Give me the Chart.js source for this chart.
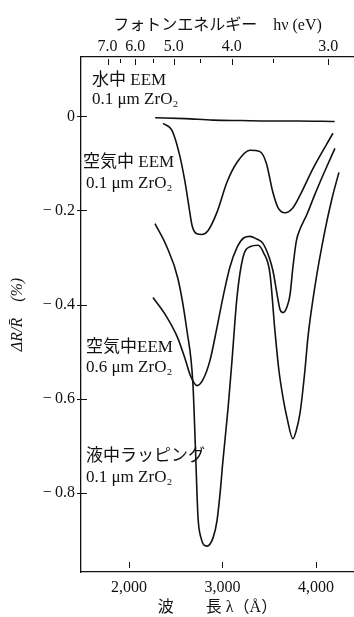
<!DOCTYPE html>
<html>
<head>
<meta charset="utf-8">
<script src="https://cdn.jsdelivr.net/npm/chart.js@4.4.1/dist/chart.umd.min.js"></script>
<style>
  html, body { margin:0; padding:0; background:#fff; }
</style>
</head>
<body>
<canvas id="chart" width="354" height="617"></canvas>
<script>
// 波長 (Å) と ΔR/R̄ (%)
const waveWater = [2280, 2600, 2900, 3200, 3500, 3800, 4200];
const dRWater   = [-0.003, -0.005, -0.008, -0.009, -0.010, -0.010, -0.011];

const waveAir01 = [2364, 2460, 2545, 2600, 2640, 2675, 2720, 2780, 2845, 2941, 3048, 3155, 3294, 3401, 3470, 3540, 3594, 3668, 3754, 3829, 3968, 4182];
const dRAir01   = [-0.015, -0.030, -0.085, -0.140, -0.190, -0.232, -0.249, -0.251, -0.243, -0.204, -0.140, -0.098, -0.072, -0.075, -0.100, -0.162, -0.194, -0.205, -0.194, -0.168, -0.111, -0.036];

const waveAir06 = [2257, 2400, 2520, 2600, 2660, 2727, 2790, 2866, 2940, 3005, 3080, 3155, 3230, 3294, 3360, 3433, 3500, 3540, 3590, 3615, 3647, 3690, 3722, 3754, 3790, 3829, 3904, 3980, 4043, 4120, 4203];
const dRAir06   = [-0.385, -0.425, -0.470, -0.515, -0.552, -0.572, -0.560, -0.519, -0.450, -0.385, -0.320, -0.279, -0.258, -0.255, -0.260, -0.270, -0.300, -0.328, -0.385, -0.410, -0.417, -0.405, -0.380, -0.320, -0.265, -0.240, -0.208, -0.170, -0.140, -0.105, -0.068];

const waveLap = [2278, 2400, 2524, 2620, 2684, 2710, 2738, 2770, 2834, 2900, 2941, 2975, 3005, 3060, 3102, 3155, 3219, 3294, 3380, 3440, 3508, 3561, 3604, 3650, 3690, 3754, 3786, 3830, 3882, 3914, 3990, 4096, 4171, 4246];
const dRLap   = [-0.228, -0.275, -0.345, -0.455, -0.568, -0.700, -0.850, -0.895, -0.913, -0.895, -0.860, -0.800, -0.732, -0.620, -0.519, -0.385, -0.300, -0.277, -0.274, -0.290, -0.334, -0.455, -0.540, -0.600, -0.640, -0.685, -0.670, -0.630, -0.540, -0.470, -0.360, -0.243, -0.175, -0.119];

// 目盛
const xTicks = [2000, 3000, 4000];
const yTicks = [0, -0.2, -0.4, -0.6, -0.8];
const yTickLabels = ['0', '−\u20090.2', '−\u20090.4', '−\u20090.6', '−\u20090.8'];
const eVTicks = [7.0, 6.5, 6.0, 5.5, 5.0, 4.5, 4.0, 3.5, 3.0];
const eVLabeled = [7.0, 6.0, 5.0, 4.0, 3.0];

// 注記
const curveNotes = [
  ['水中 EEM', '0.1 μm ZrO₂'],
  ['空気中 EEM', '0.1 μm ZrO₂'],
  ['空気中EEM', '0.6 μm ZrO₂'],
  ['液中ラッピング', '0.1 μm ZrO₂']
];

const HC = 12398; // eV·Å
const SERIF = '"Liberation Serif", "DejaVu Serif", "Noto Sans CJK JP", serif';

const toXY = (xs, ys) => xs.map((x, i) => ({ x, y: ys[i] }));
const curve = (xs, ys) => ({
  data: toXY(xs, ys), showLine: true, borderColor: '#111', borderWidth: 1.6,
  pointRadius: 0, cubicInterpolationMode: 'monotone', fill: false
});

/* -------------------------------------------
   目盛線と注記
-------------------------------------------- */
const decor = {
  id: 'decor',
  afterDraw(chart) {
    const { ctx, chartArea: a, scales: { x, y } } = chart;
    ctx.save();
    ctx.strokeStyle = '#111';
    ctx.lineWidth = 1;
    const seg = (x1, y1, x2, y2) => { ctx.beginPath(); ctx.moveTo(x1, y1); ctx.lineTo(x2, y2); ctx.stroke(); };

    xTicks.forEach(v => { const p = Math.round(x.getPixelForValue(v)) + 0.5; seg(p, a.bottom - 4, p, a.bottom - 10); });
    eVTicks.forEach(e => { const p = Math.round(x.getPixelForValue(HC / e)) + 0.5; seg(p, a.top + 2, p, a.top + (eVLabeled.includes(e) ? 8 : 6)); });
    yTicks.forEach(v => { const p = Math.round(y.getPixelForValue(v)) + 0.5; seg(a.left - 4, p, a.left + 6, p); });

    // 注記テキスト
    const spots = [[92, 92, 81, 100], [83, 86, 163, 184], [86, 86, 348, 368], [86, 86, 457, 478]];
    ctx.fillStyle = '#111';
    ctx.font = '17px ' + SERIF;
    ctx.textBaseline = 'middle';
    ctx.textAlign = 'left';
    curveNotes.forEach((lines, i) => {
      const [x1, x2, y1, y2] = spots[i];
      ctx.fillText(lines[0], x1, y1);
      ctx.fillText(lines[1], x2, y2);
    });
    ctx.restore();
  }
};

new Chart(document.getElementById('chart'), {
  type: 'scatter',
  data: {
    datasets: [
      curve(waveWater, dRWater),
      curve(waveAir01, dRAir01),
      curve(waveAir06, dRAir06),
      curve(waveLap, dRLap)
    ]
  },
  options: {
    responsive: false,
    animation: false,
    devicePixelRatio: 1,
    layout: { padding: 0 },
    plugins: { legend: { display: false }, tooltip: { enabled: false } },
    scales: {
      x: {
        type: 'linear', position: 'bottom', min: 1487, max: 4407,
        afterFit: s => { s.height = 45; },
        afterBuildTicks: s => { s.ticks = xTicks.map(v => ({ value: v })); },
        grid: { display: true, drawOnChartArea: false, drawTicks: false },
        border: { display: true, color: '#111', width: 1.3 },
        ticks: {
          padding: 6, color: '#111', font: { family: SERIF, size: 16 },
          maxRotation: 0, autoSkip: false,
          callback: v => v.toLocaleString('en-US')
        },
        title: { display: true, text: '波　　長 λ（Å）', color: '#111',
                 font: { family: SERIF, size: 16 }, padding: { top: 0, bottom: 0 } }
      },
      x2: {
        type: 'linear', position: 'top', min: 1487, max: 4407,
        afterFit: s => { s.height = 57; },
        afterBuildTicks: s => { s.ticks = eVLabeled.map(e => ({ value: HC / e })); },
        grid: { display: true, drawOnChartArea: false, drawTicks: false },
        border: { display: true, color: '#111', width: 1.3 },
        ticks: {
          padding: 1, color: '#111', font: { family: SERIF, size: 16 },
          maxRotation: 0, autoSkip: false,
          callback: v => (HC / v).toFixed(1)
        },
        title: { display: true, text: 'フォトンエネルギー　hν (eV)', color: '#111',
                 font: { family: SERIF, size: 16 }, padding: { top: 16, bottom: 0 } }
      },
      y: {
        type: 'linear', position: 'left', min: -0.968, max: 0.126,
        afterFit: s => { s.width = 81; },
        afterBuildTicks: s => { s.ticks = yTicks.map(v => ({ value: v })); },
        grid: { display: true, drawOnChartArea: false, drawTicks: false },
        border: { display: true, color: '#111', width: 1.3 },
        ticks: {
          padding: 6, color: '#111', font: { family: SERIF, size: 16 },
          callback: v => yTickLabels[yTicks.findIndex(t => Math.abs(t - v) < 1e-6)]
        },
        title: { display: true, text: 'ΔR/R̄　(%)', color: '#111',
                 font: { family: SERIF, size: 16, style: 'italic' }, padding: { top: 8, bottom: 0 } }
      }
    }
  },
  plugins: [decor]
});
</script>
</body>
</html>
